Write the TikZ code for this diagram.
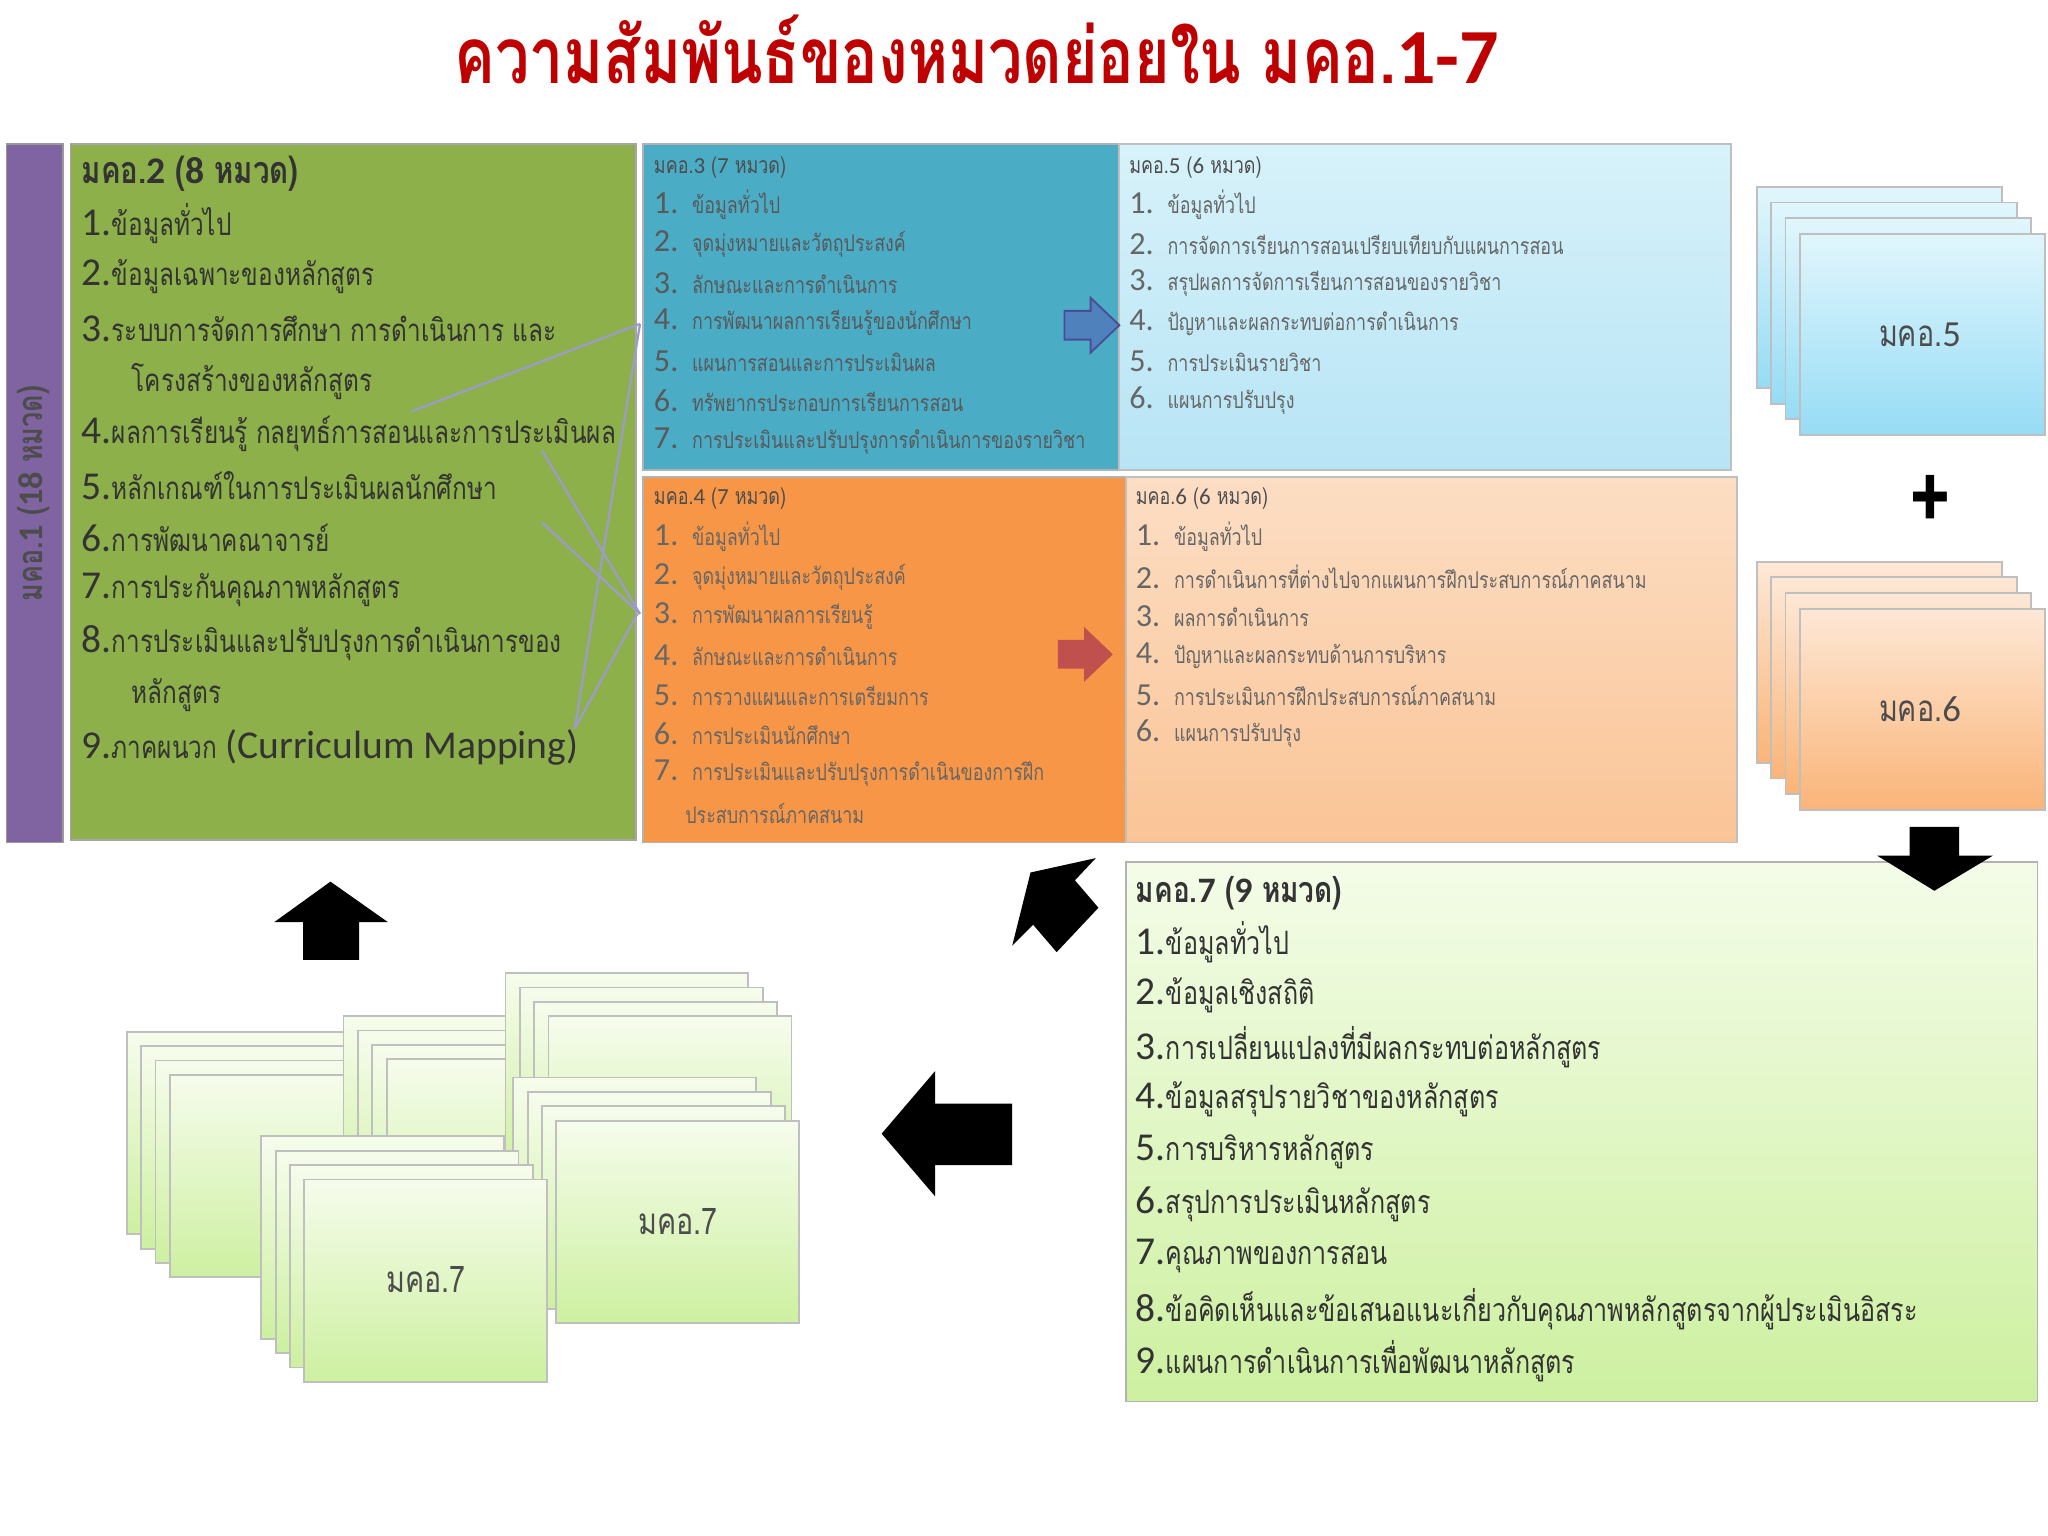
\documentclass[tikz,border=0pt]{standalone}
\usepackage{fontspec}
\setmainfont[Script=Thai,FakeStretch=0.78]{Loma}
\newfontfamily\numf{Carlito}
\newcommand{\bn}[1]{{\numf\fontsize{8.6}{9}\selectfont #1}}
\begin{document}
\begin{tikzpicture}[x=0.01cm,y=-0.01cm,
  tx/.style={anchor=west,inner sep=0pt,font=\fontsize{7.4}{8}\selectfont,text=black!80},
  gx/.style={anchor=west,inner sep=0pt,font=\fontsize{6.8}{8}\selectfont,text=black!80},
  sm/.style={anchor=west,inner sep=0pt,font=\fontsize{5}{6}\selectfont},
  card/.style={draw=black!25,line width=0.4pt},
  blk/.style={fill=black,draw=none}]
\useasboundingbox (0,0) rectangle (1568,1176);
\fill[white] (0,0) rectangle (1568,1176);
% title
\node[font=\fontsize{17}{20}\selectfont\bfseries,text=red!75!black] (title) at (748,38) {ความสัมพันธ์ของหมวดย่อยใน มคอ.{\numf 1-7}};
% purple
\draw[fill={rgb,255:red,128;green,100;blue,162},draw=black!40] (5,110) rectangle (48,645);
\node[rotate=90,font=\fontsize{7.5}{9}\selectfont\bfseries,text=black!70] (m1) at (26,378) {มคอ.{\numf 1} ({\numf 18} หมวด)};
% green box
\draw[fill={rgb,255:red,141;green,176;blue,74},draw=black!35] (54,110) rectangle (487,643);
\node[gx,font=\fontsize{8.2}{9}\selectfont\bfseries] at (62,133) {มคอ.{\numf 2} ({\numf 8} หมวด)};
\foreach \y/\t in {171/{\bn{1.}ข้อมูลทั่วไป},212/{\bn{2.}ข้อมูลเฉพาะของหลักสูตร},252/{\bn{3.}ระบบการจัดการศึกษา การดำเนินการ และ},292/{\hspace*{1.6em}โครงสร้างของหลักสูตร},332/{\bn{4.}ผลการเรียนรู้ กลยุทธ์การสอนและการประเมินผล},372/{\bn{5.}หลักเกณฑ์ในการประเมินผลนักศึกษา},412/{\bn{6.}การพัฒนาคณาจารย์},452/{\bn{7.}การประกันคุณภาพหลักสูตร},492/{\bn{8.}การประเมินและปรับปรุงการดำเนินการของ},532/{\hspace*{1.6em}หลักสูตร},572/{\bn{9.}ภาคผนวก \bn{(Curriculum Mapping)}}}
  \node[gx] at (62,\y) {\t};
\draw[gray!70!blue!60,line width=0.5pt] (315,315) -- (490,248) (415,345) -- (490,470) (440,558) -- (490,248) (415,400)--(490,470) (440,558) -- (488,470);
% m3
\draw[fill={rgb,255:red,75;green,172;blue,198},draw=black!30] (492,110) rectangle (857,360);
\node[sm,text=black!70] at (500,128) {มคอ.{\numf 3} ({\numf 7} หมวด)};
\foreach \y/\n/\t in {157/1/ข้อมูลทั่วไป,187/2/จุดมุ่งหมายและวัตถุประสงค์,217/3/ลักษณะและการดำเนินการ,247/4/การพัฒนาผลการเรียนรู้ของนักศึกษา,277/5/แผนการสอนและการประเมินผล,307/6/ทรัพยากรประกอบการเรียนการสอน,338/7/การประเมินและปรับปรุงการดำเนินการของรายวิชา}
  \node[sm,text=black!65] at (500,\y) {{\numf\fontsize{7}{8}\selectfont\n.}\hspace{0.6em}\t};
% m5
\draw[top color={rgb,255:red,215;green,242;blue,250},bottom color={rgb,255:red,183;green,228;blue,245},draw=black!25] (857,110) rectangle (1325,360);
\node[sm,text=black!70] at (864,128) {มคอ.{\numf 5} ({\numf 6} หมวด)};
\foreach \y/\n/\t in {157/1/ข้อมูลทั่วไป,187/2/การจัดการเรียนการสอนเปรียบเทียบกับแผนการสอน,217/3/สรุปผลการจัดการเรียนการสอนของรายวิชา,247/4/ปัญหาและผลกระทบต่อการดำเนินการ,277/5/การประเมินรายวิชา,307/6/แผนการปรับปรุง}
  \node[sm,text=black!60] at (864,\y) {{\numf\fontsize{7}{8}\selectfont\n.}\hspace{0.6em}\t};
% m4
\draw[fill={rgb,255:red,247;green,150;blue,70},draw=black!30] (492,365) rectangle (862,645);
\node[sm,text=black!70] at (500,382) {มคอ.{\numf 4} ({\numf 7} หมวด)};
\foreach \y/\n/\t in {411/1/ข้อมูลทั่วไป,442/2/จุดมุ่งหมายและวัตถุประสงค์,472/3/การพัฒนาผลการเรียนรู้,502/4/ลักษณะและการดำเนินการ,532/5/การวางแผนและการเตรียมการ,562/6/การประเมินนักศึกษา,592/7/การประเมินและปรับปรุงการดำเนินของการฝึก}
  \node[sm,text=black!60] at (500,\y) {{\numf\fontsize{7}{8}\selectfont\n.}\hspace{0.6em}\t};
\node[sm,text=black!60] at (524,623) {ประสบการณ์ภาคสนาม};
% m6
\draw[top color={rgb,255:red,252;green,222;blue,196},bottom color={rgb,255:red,250;green,196;blue,150},draw=black!25] (862,365) rectangle (1330,645);
\node[sm,text=black!70] at (869,382) {มคอ.{\numf 6} ({\numf 6} หมวด)};
\foreach \y/\n/\t in {411/1/ข้อมูลทั่วไป,442/2/การดำเนินการที่ต่างไปจากแผนการฝึกประสบการณ์ภาคสนาม,472/3/ผลการดำเนินการ,502/4/ปัญหาและผลกระทบด้านการบริหาร,532/5/การประเมินการฝึกประสบการณ์ภาคสนาม,562/6/แผนการปรับปรุง}
  \node[sm,text=black!60] at (869,\y) {{\numf\fontsize{7}{8}\selectfont\n.}\hspace{0.6em}\t};
% small arrows
\draw[fill={rgb,255:red,79;green,129;blue,189},draw=blue!40!black!70] (815,238)--(835,238)--(835,228)--(857,249)--(835,270)--(835,260)--(815,260)--cycle;
\draw[fill={rgb,255:red,192;green,80;blue,77},draw=none] (810,490)--(830,490)--(830,480)--(852,501)--(830,522)--(830,512)--(810,512)--cycle;
% right stacks
\foreach \i in {0,1,2,3} {
  \draw[card,top color={rgb,255:red,225;green,246;blue,252},bottom color={rgb,255:red,150;green,220;blue,245}] (1345+11*\i,143+12*\i) rectangle ++(188,154);
}
\node[font=\fontsize{8}{9}\selectfont,text=black!70] (c5) at (1470,256) {มคอ.{\numf 5}};
\node[font=\fontsize{20}{20}\selectfont\bfseries] (plus) at (1478,385) {+};
\foreach \i in {0,1,2,3} {
  \draw[card,top color={rgb,255:red,253;green,232;blue,214},bottom color={rgb,255:red,250;green,180;blue,120}] (1345+11*\i,430+12*\i) rectangle ++(188,154);
}
\node[font=\fontsize{8}{9}\selectfont,text=black!70] (c6) at (1470,543) {มคอ.{\numf 6}};
% m7
\draw[top color={rgb,255:red,244;green,252;blue,232},bottom color={rgb,255:red,205;green,240;blue,160},draw=black!30] (862,660) rectangle (1560,1073);
\fill[blk] (1462,633)--(1500,633)--(1500,655)--(1526,655)--(1481,682)--(1437,655)--(1462,655)--cycle;
\node[tx,font=\fontsize{7.8}{9}\selectfont\bfseries] at (869,684) {มคอ.{\numf 7} ({\numf 9} หมวด)};
\foreach \y/\t in {721/{\bn{1.}ข้อมูลทั่วไป},762/{\bn{2.}ข้อมูลเชิงสถิติ},802/{\bn{3.}การเปลี่ยนแปลงที่มีผลกระทบต่อหลักสูตร},842/{\bn{4.}ข้อมูลสรุปรายวิชาของหลักสูตร},882/{\bn{5.}การบริหารหลักสูตร},922/{\bn{6.}สรุปการประเมินหลักสูตร},962/{\bn{7.}คุณภาพของการสอน},1002/{\bn{8.}ข้อคิดเห็นและข้อเสนอแนะเกี่ยวกับคุณภาพหลักสูตรจากผู้ประเมินอิสระ},1042/{\bn{9.}แผนการดำเนินการเพื่อพัฒนาหลักสูตร}}
  \node[gx,font=\fontsize{7}{8}\selectfont] at (869,\y) {\t};
% black arrows
\fill[blk] (789,668)--(839,657)--(823,674)--(841,695)--(809,729)--(791,708)--(775,724)--cycle;
\fill[blk] (675,868)--(716,820)--(716,845)--(775,845)--(775,892)--(716,892)--(716,916)--cycle;
\fill[blk] (210,706)--(253,675)--(297,706)--(275,706)--(275,735)--(232,735)--(232,706)--cycle;
% bottom-left stacks
\foreach \sx/\sy/\lab in {97/790/ม,263/778/{},387/745/{},393/825/มคอ.7,200/870/มคอ.7} {
  \foreach \i in {0,1,2,3} {
    \draw[card,top color={rgb,255:red,246;green,252;blue,236},bottom color={rgb,255:red,205;green,240;blue,160}] (\sx+11*\i,\sy+11*\i) rectangle ++(186,155);
  }
  \node[font=\fontsize{8}{9}\selectfont,text=black!70] at (\sx+126,\sy+110) {\lab};
}
\end{tikzpicture}
\end{document}
